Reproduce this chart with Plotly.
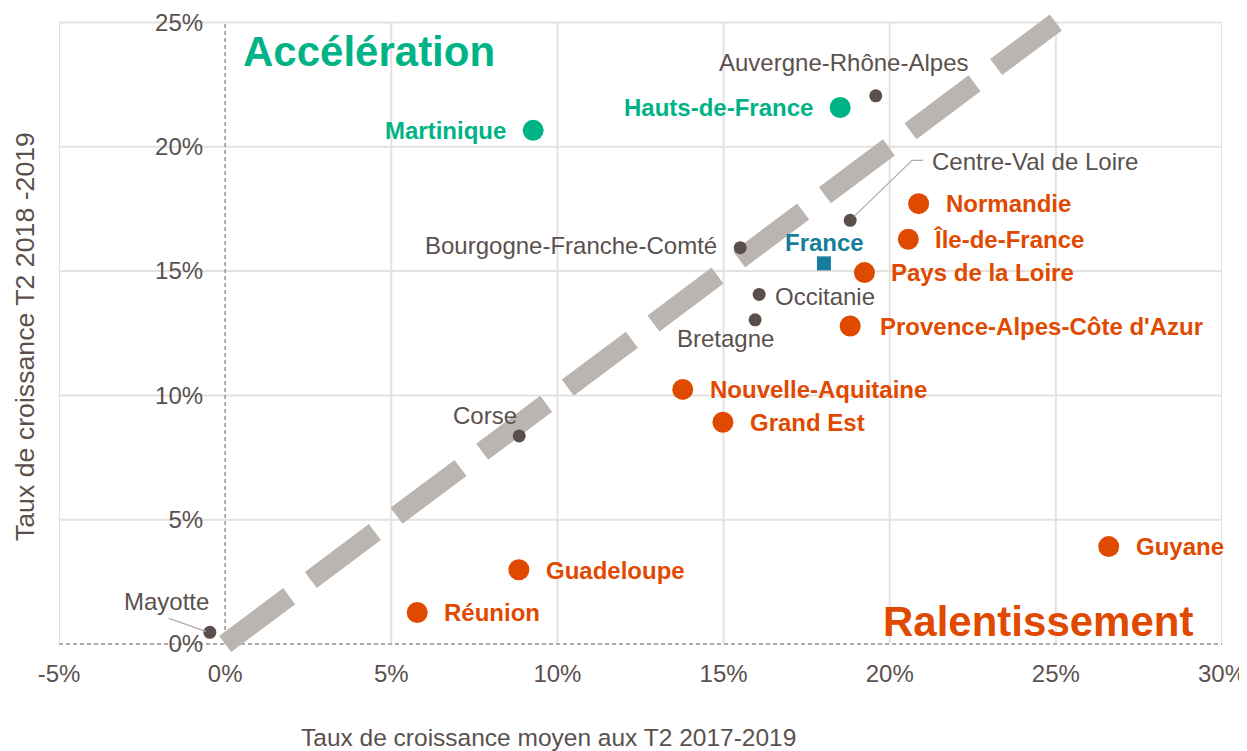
import plotly.graph_objects as go

# ---------------- data ----------------
regions = ["Mayotte", "Corse", "Martinique", "Hauts-de-France", "Auvergne-Rhône-Alpes",
           "Centre-Val de Loire", "Normandie", "Île-de-France", "France", "Pays de la Loire",
           "Bourgogne-Franche-Comté", "Occitanie", "Bretagne", "Provence-Alpes-Côte d'Azur",
           "Nouvelle-Aquitaine", "Grand Est", "Guyane", "Guadeloupe", "Réunion"]
growth_avg_1719 = [-0.46, 8.85, 9.27, 18.51, 19.58, 18.81, 20.87, 20.56, 18.02, 19.24,
                   15.50, 16.07, 15.95, 18.81, 13.77, 14.98, 26.59, 8.84, 5.78]
growth_1819 = [0.47, 8.37, 20.66, 21.58, 22.05, 17.04, 17.71, 16.28, 15.31, 14.94,
               15.94, 14.06, 13.04, 12.79, 10.24, 8.92, 3.92, 2.99, 1.27]
groups = ["neutre", "neutre", "acceleration", "acceleration", "neutre",
          "neutre", "ralentissement", "ralentissement", "france", "ralentissement",
          "neutre", "neutre", "neutre", "ralentissement",
          "ralentissement", "ralentissement", "ralentissement", "ralentissement", "ralentissement"]

x_ticks = [-5, 0, 5, 10, 15, 20, 25, 30]
x_ticklabels = ["-5%", "0%", "5%", "10%", "15%", "20%", "25%", "30%"]
y_ticks = [0, 5, 10, 15, 20, 25]
y_ticklabels = ["0%", "5%", "10%", "15%", "20%", "25%"]

diag_x = [0, 25]
diag_y = [0, 25]

x_title = "Taux de croissance moyen aux T2 2017-2019"
y_title = "Taux de croissance T2 2018 -2019"
zone_up = "Accélération"
zone_down = "Ralentissement"

# ---------------- style ----------------
FONT = "Liberation Sans, Arial, sans-serif"
TXT = "#5a514e"
GRID = "#e5e1e1"
ZERO = "#9b8e8a"
ORANGE = "#df4a00"
GREEN = "#00b386"
TEAL = "#167e9c"
DARK = "#5b4f4c"

x_range = [-5, 30]
y_range = [-0.4, 25.5]

group_style = {
    "ralentissement": dict(color=ORANGE, size=21, symbol="circle", bold=True, fsize=24),
    "acceleration": dict(color=GREEN, size=21, symbol="circle", bold=True, fsize=24),
    "neutre": dict(color=DARK, size=13, symbol="circle", bold=False, fsize=24),
    "france": dict(color=TEAL, size=14, symbol="square", bold=True, fsize=24),
}

# label placement: (xanchor, xshift px, yshift px)
label_place = {
    "Mayotte": ("center", -43, 31),
    "Corse": ("right", 0, 20),
    "Martinique": ("right", -25, 0),
    "Hauts-de-France": ("right", -25, 0),
    "Auvergne-Rhône-Alpes": ("center", -32, 33),
    "Centre-Val de Loire": ("left", 80, 59),
    "Normandie": ("left", 25, 0),
    "Île-de-France": ("left", 24, 0),
    "France": ("center", 1, 21),
    "Pays de la Loire": ("left", 25, 0),
    "Bourgogne-Franche-Comté": ("right", -21, 2),
    "Occitanie": ("left", 14, -2),
    "Bretagne": ("center", -30, -19),
    "Provence-Alpes-Côte d'Azur": ("left", 28, 0),
    "Nouvelle-Aquitaine": ("left", 25, 0),
    "Grand Est": ("left", 25, 0),
    "Guyane": ("left", 25, 0),
    "Guadeloupe": ("left", 25, -1),
    "Réunion": ("left", 25, 0),
}
leader_paths = {
    "Mayotte": "M-4,1 L-41,14",
    "Centre-Val de Loire": "M4,4 L62,60 L73,60",
}

fig = go.Figure()

# grid lines
for v in x_ticks:
    if v != 0:
        fig.add_shape(type="line", x0=v, x1=v, y0=y_ticks[0], y1=y_ticks[-1],
                      line=dict(color=GRID, width=2), layer="below")
for v in y_ticks:
    if v != 0:
        fig.add_shape(type="line", x0=x_ticks[0], x1=x_ticks[-1], y0=v, y1=v,
                      line=dict(color=GRID, width=2), layer="below")
# dashed zero lines
fig.add_shape(type="line", x0=0, x1=0, y0=y_ticks[0], y1=y_ticks[-1],
              line=dict(color=ZERO, width=1.5, dash="4px,3px"), layer="below")
fig.add_shape(type="line", x0=x_ticks[0], x1=x_ticks[-1], y0=0, y1=0,
              line=dict(color=ZERO, width=1.5, dash="4px,3px"), layer="below")

# diagonal reference
fig.add_trace(go.Scatter(x=diag_x, y=diag_y, mode="lines",
                         line=dict(color="#bbb5b2", width=20, dash="80px,27px"),
                         hoverinfo="skip", showlegend=False))

# points
for g in ["neutre", "acceleration", "ralentissement", "france"]:
    idx = [i for i, gg in enumerate(groups) if gg == g]
    st = group_style[g]
    fig.add_trace(go.Scatter(
        x=[growth_avg_1719[i] for i in idx],
        y=[growth_1819[i] for i in idx],
        text=[regions[i] for i in idx],
        mode="markers",
        marker=dict(color=st["color"], size=st["size"], symbol=st["symbol"], line=dict(width=0)),
        cliponaxis=False, showlegend=False, hovertemplate="%{text}<extra></extra>"))

# leader lines
for i, r in enumerate(regions):
    if r in leader_paths:
        fig.add_shape(type="path", xsizemode="pixel", ysizemode="pixel",
                      xanchor=growth_avg_1719[i], yanchor=growth_1819[i],
                      path=leader_paths[r], line=dict(color="#b3aaa7", width=1.2), layer="above")

# labels
for i, r in enumerate(regions):
    st = group_style[groups[i]]
    xa, dx, dy = label_place[r]
    txt = f"<b>{r}</b>" if st["bold"] else r
    fig.add_annotation(x=growth_avg_1719[i], y=growth_1819[i], text=txt, showarrow=False,
                       xanchor=xa, yanchor="middle", xshift=dx, yshift=dy,
                       font=dict(family=FONT, size=st["fsize"],
                                 color=st["color"] if groups[i] != "neutre" else TXT))

# zone labels
fig.add_annotation(x=0, y=25, text=f"<b>{zone_up}</b>", showarrow=False,
                   xanchor="left", yanchor="middle", xshift=16, yshift=-29,
                   font=dict(family=FONT, size=42, color=GREEN))
fig.add_annotation(x=30, y=0, text=f"<b>{zone_down}</b>", showarrow=False,
                   xanchor="right", yanchor="middle", xshift=-27, yshift=23,
                   font=dict(family=FONT, size=42, color=ORANGE))

# axis titles
fig.add_annotation(xref="paper", yref="paper", x=0.4205, y=-0.1304, text=x_title,
                   showarrow=False, xanchor="center", yanchor="middle",
                   font=dict(family=FONT, size=24.5, color=TXT))
fig.add_annotation(xref="paper", yref="paper", x=-0.0292, y=0.4922, text=y_title,
                   showarrow=False, xanchor="center", yanchor="middle", textangle=-90,
                   font=dict(family=FONT, size=26.7, color=TXT))

fig.update_layout(
    width=1239, height=743,
    margin=dict(l=51, r=25, t=2, b=97, autoexpand=False),
    paper_bgcolor="white", plot_bgcolor="white",
    font=dict(family=FONT, color=TXT),
    showlegend=False,
    xaxis=dict(range=x_range, tickvals=x_ticks, ticktext=x_ticklabels,
               showgrid=False, zeroline=False, showline=False, ticks="",
               tickfont=dict(family=FONT, size=24, color=TXT), ticklabelstandoff=3,
               domain=[0, 1]),
    yaxis=dict(range=y_range, tickvals=y_ticks, ticktext=y_ticklabels,
               anchor="free", position=(0 - x_range[0]) / (x_range[1] - x_range[0]),
               showgrid=False, zeroline=False, showline=False, ticks="",
               tickfont=dict(family=FONT, size=24, color=TXT), ticklabelstandoff=22),
)

fig.write_html("out.html")
